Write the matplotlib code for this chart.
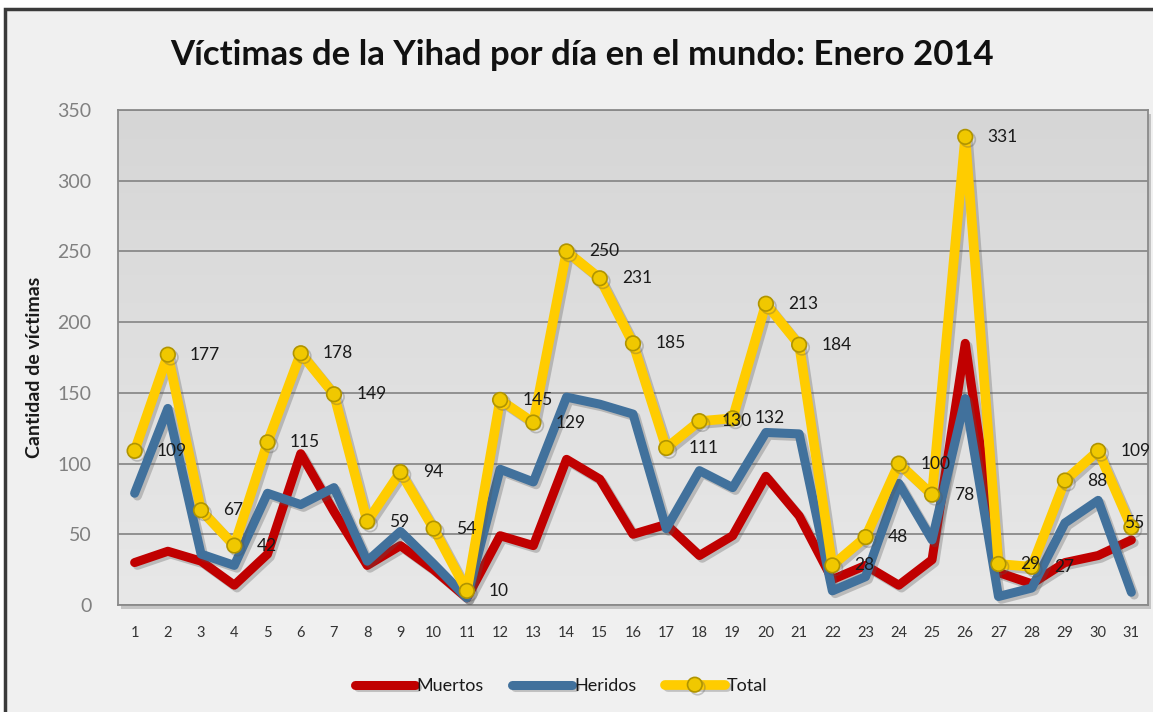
import numpy as np
import matplotlib
matplotlib.use("Agg")
import matplotlib.pyplot as plt
import matplotlib.patheffects as pe
from matplotlib.colors import LinearSegmentedColormap
from matplotlib.patches import Rectangle

# datos
dias = list(range(1, 32))
muertos = [30, 38, 31, 14, 36, 107, 66, 28, 42, 25, 5, 49, 42, 103, 89, 50,
           57, 35, 49, 91, 63, 18, 28, 14, 32, 185, 23, 15, 30, 35, 46]
heridos = [79, 139, 36, 28, 79, 71, 83, 31, 52, 29, 5, 96, 87, 147, 142, 135,
           54, 95, 83, 122, 121, 10, 20, 86, 46, 146, 6, 12, 58, 74, 9]
total = [109, 177, 67, 42, 115, 178, 149, 59, 94, 54, 10, 145, 129, 250, 231,
         185, 111, 130, 132, 213, 184, 28, 48, 100, 78, 331, 29, 27, 88, 109, 55]
yticks = [0, 50, 100, 150, 200, 250, 300, 350]

plt.rcParams['font.family'] = ['Lato', 'DejaVu Sans']

W, H = 1153, 712
fig = plt.figure(figsize=(W / 100, H / 100), dpi=100, facecolor='white')

# marco del gráfico
fig.patches.append(Rectangle((5 / W, -0.1), 1.2, 1 - 8.5 / H + 0.1,
                             transform=fig.transFigure, facecolor='#f0f0f0',
                             edgecolor='#3a3a3a', lw=2.5, zorder=-5))

left, right, top, bottom = 118, 1148, 110, 605
ax = fig.add_axes([left / W, 1 - bottom / H, (right - left) / W, (bottom - top) / H])

# sombra del área de trazado
fig.patches.append(Rectangle(((left + 3) / W, 1 - (bottom + 4) / H),
                             (right - left) / W, (bottom - top) / H,
                             transform=fig.transFigure, facecolor='#a8a8a8',
                             edgecolor='none', alpha=0.6, zorder=-1))

cmap = LinearSegmentedColormap.from_list('bg', ['#e8e8e8', '#d6d6d6'])
grad = np.linspace(0, 1, 256).reshape(-1, 1)
ax.imshow(grad, extent=[0, 1, 0, 1], transform=ax.transAxes, cmap=cmap,
          origin='lower', aspect='auto', zorder=0)

shadow = [pe.SimpleLineShadow(offset=(2, -2), alpha=0.3, shadow_color='#555555'), pe.Normal()]

ax.plot(dias, muertos, color='#c00000', lw=6.5, solid_capstyle='round',
        solid_joinstyle='round', label='Muertos', zorder=3, path_effects=shadow)
ax.plot(dias, heridos, color='#41719c', lw=6.5, solid_capstyle='round',
        solid_joinstyle='round', label='Heridos', zorder=4, path_effects=shadow)
ax.plot(dias, total, color='#ffcc00', lw=7, solid_capstyle='round',
        solid_joinstyle='round', marker='o', markersize=10.5,
        markerfacecolor='#f0c800', markeredgecolor='#b09400', markeredgewidth=1.2,
        label='Total', zorder=5, path_effects=shadow)

for i, (d, v) in enumerate(zip(dias, total)):
    if i == len(dias) - 1:
        ax.annotate(str(v), (d, v), xytext=(2, 3), textcoords='offset points',
                    ha='center', va='center', fontsize=12.5, color='#1a1a1a',
                    zorder=6, annotation_clip=False)
    else:
        ax.annotate(str(v), (d, v), xytext=(16, 0), textcoords='offset points',
                    ha='left', va='center', fontsize=12.5, color='#1a1a1a',
                    zorder=6, annotation_clip=False)

ax.set_xlim(0.5, 31.5)
ax.set_ylim(0, 350)
ax.set_xticks(dias)
ax.set_xticklabels([str(d) for d in dias])
ax.set_yticks(yticks)
ax.tick_params(axis='x', length=0, pad=15, labelsize=10.5, labelcolor='#333333')
ax.tick_params(axis='y', length=0, pad=19, labelsize=14, labelcolor='#808080')
ax.grid(axis='y', color='#8a8a8a', lw=1.3, zorder=1)
ax.set_axisbelow(True)
for s in ax.spines.values():
    s.set_color('#8a8a8a')
    s.set_linewidth(1.3)

fig.text(35 / W, 1 - 367 / H, 'Cantidad de víctimas', rotation=90, ha='center',
         va='center', fontsize=14, fontweight='bold', color='#1a1a1a')

fig.text(582 / W, 1 - 55 / H, 'Víctimas de la Yihad por día en el mundo: Enero 2014',
         ha='center', va='center', fontsize=25, fontweight='bold', color='#111111')

leg = fig.legend(loc='center', bbox_to_anchor=(561 / W, 1 - 686 / H), ncol=3,
                 frameon=False, fontsize=13, handlelength=3.3, handletextpad=0.1,
                 columnspacing=1.6)
for t in leg.get_texts():
    t.set_color('#1a1a1a')

fig.savefig('out.png', dpi=100, facecolor=fig.get_facecolor())
